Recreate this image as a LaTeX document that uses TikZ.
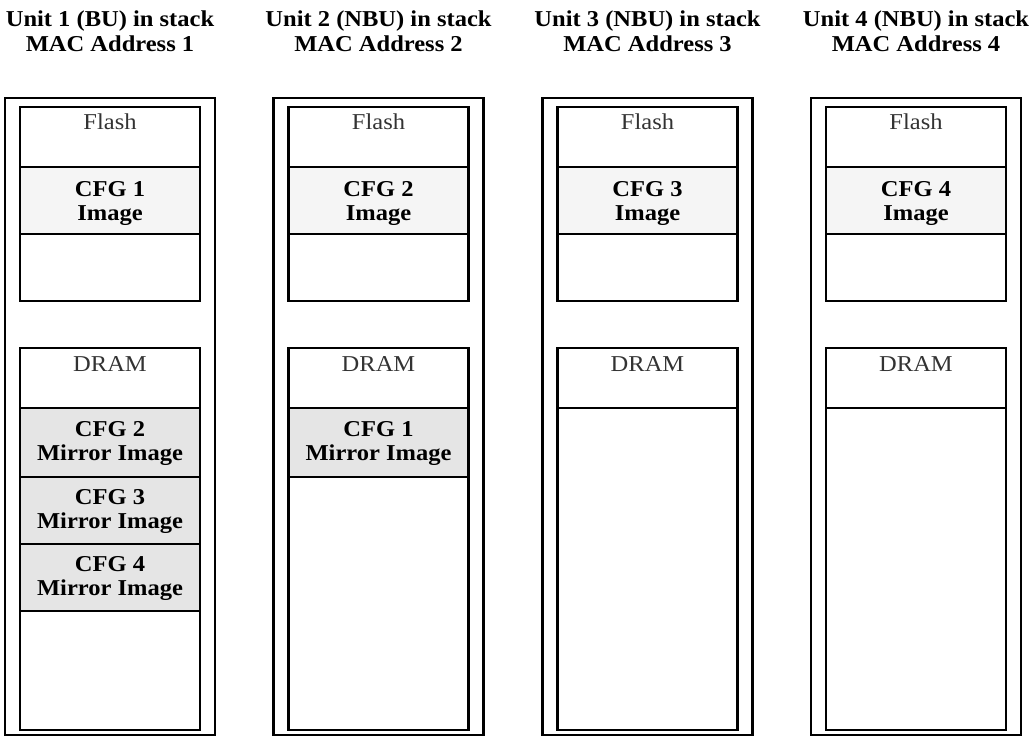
\documentclass[tikz,border=0pt]{standalone}
\usepackage{fontspec}
\setmainfont{Liberation Serif}
\usepackage{graphicx}
\usetikzlibrary{calc}
\newcommand\sx[1]{\scalebox{1.08}[1]{#1}}
\newcommand\twol[2]{\sx{\begin{tabular}[b]{@{}c@{}}#1\\#2\end{tabular}}}
\begin{document}
\begin{tikzpicture}[x=1pt,y=-1pt,
  outerbox/.style={draw, line width=2.9pt, minimum width=210pt, anchor=north, inner sep=0pt, outer sep=0pt},
  cell/.style={draw, line width=2.6pt, minimum width=180pt, anchor=north, inner sep=0pt, outer sep=0pt},
  cfgcell/.style={cell, fill=gray!8},
  mircell/.style={cell, fill=gray!20},
  plainlbl/.style={font=\fontsize{22.7}{23.5}\selectfont, text=black!80, anchor=base, inner sep=0pt},
  boldlbl/.style={font=\fontsize{22.7}{23.5}\selectfont\bfseries, anchor=base, inner sep=0pt},
  unittitle/.style={font=\fontsize{22.7}{25}\selectfont\bfseries, anchor=base, inner sep=0pt}]
\useasboundingbox (0,0) rectangle (1032,738);
\foreach \i/\L/\tag in {1/5/BU, 2/273.5/NBU, 3/542.5/NBU, 4/811/NBU} {
  \pgfmathsetmacro\cx{\L+105}
  \node[outerbox, minimum height=637pt] (o\i) at (\cx,98) {};
  \node[unittitle] (t\i) at (\cx,52) {\twol{Unit \i\ (\tag) in stack}{MAC Address \i}};
  \node[cell, minimum height=60pt] (fh\i) at (\cx,107) {};
  \node[cfgcell, minimum height=67pt] (fc\i) at (\cx,167) {};
  \node[cell, minimum height=67pt] (fr\i) at (\cx,234) {};
  \node[cell, minimum height=60pt] (dh\i) at (\cx,348) {};
  \node[plainlbl] (fl\i) at ($(fh\i.north)+(0,23)$) {\sx{Flash}};
  \node[plainlbl] (dl\i) at ($(dh\i.north)+(0,23)$) {\sx{DRAM}};
  \node[boldlbl] (cl\i) at ($(fc\i.north)+(0,53)$) {\twol{CFG \i}{Image}};
}
% Unit 1 DRAM
\node[mircell, minimum height=69pt] (m12) at ($(o1.north)+(0,310)$) {};
\node[mircell, minimum height=67pt] (m13) at ($(o1.north)+(0,379)$) {};
\node[mircell, minimum height=67pt] (m14) at ($(o1.north)+(0,446)$) {};
\node[cell, minimum height=119pt] (r1) at ($(o1.north)+(0,513)$) {};
\node[boldlbl] (ml12) at ($(m12.north)+(0,52)$) {\twol{CFG 2}{Mirror Image}};
\node[boldlbl] (ml13) at ($(m13.north)+(0,51)$) {\twol{CFG 3}{Mirror Image}};
\node[boldlbl] (ml14) at ($(m14.north)+(0,51)$) {\twol{CFG 4}{Mirror Image}};
% Unit 2 DRAM
\node[mircell, minimum height=69pt] (m21) at ($(o2.north)+(0,310)$) {};
\node[cell, minimum height=253pt] (r2) at ($(o2.north)+(0,379)$) {};
\node[boldlbl] (ml21) at ($(m21.north)+(0,52)$) {\twol{CFG 1}{Mirror Image}};
% Units 3 and 4 DRAM
\node[cell, minimum height=322pt] (r3) at ($(o3.north)+(0,310)$) {};
\node[cell, minimum height=322pt] (r4) at ($(o4.north)+(0,310)$) {};
\end{tikzpicture}
\end{document}
